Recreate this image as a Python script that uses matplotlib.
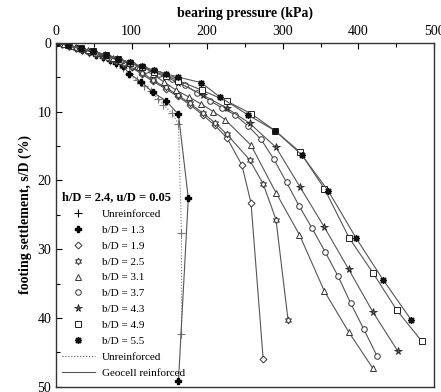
import matplotlib
matplotlib.use("Agg")
import matplotlib.pyplot as plt
import matplotlib.ticker as tck
from matplotlib.lines import Line2D

# bearing pressure (kPa) / settlement s/D (%)
unr_x = [0, 8, 17, 26, 35, 44, 53, 62, 71, 80, 88, 96, 107, 117, 126, 135, 142, 153, 162, 166, 166]
unr_y = [0, 0.25, 0.5, 0.8, 1.1, 1.45, 1.8, 2.2, 2.65, 3.15, 3.7, 4.6, 5.4, 6.3, 7.0, 8.2, 9.0, 10.2, 11.8, 27.6, 42.4]

b13_x = [0, 8, 17, 26, 35, 44, 53, 62, 71, 80, 89, 97, 113, 128, 145, 162, 175, 162]
b13_y = [0, 0.22, 0.48, 0.78, 1.08, 1.4, 1.75, 2.1, 2.5, 2.95, 3.45, 4.5, 5.7, 7.2, 8.4, 10.4, 22.6, 49.2]

b19_x = [0, 8, 17, 26, 35, 44, 53, 62, 71, 80, 90, 100, 114, 128, 145, 161, 177, 194, 210, 226, 246, 258, 274]
b19_y = [0, 0.2, 0.45, 0.72, 1.0, 1.3, 1.6, 1.95, 2.3, 2.7, 3.1, 3.6, 4.6, 5.6, 6.7, 7.8, 9.0, 10.5, 12.0, 13.8, 17.8, 23.3, 45.9]

b25_x = [0, 8, 17, 26, 35, 44, 53, 62, 71, 80, 90, 100, 114, 128, 145, 161, 177, 194, 210, 226, 256, 274, 291, 307]
b25_y = [0, 0.2, 0.45, 0.72, 1.0, 1.28, 1.58, 1.9, 2.25, 2.6, 3.0, 3.5, 4.4, 5.4, 6.5, 7.6, 8.8, 10.2, 11.6, 13.3, 17.0, 20.5, 25.7, 40.3]

b31_x = [0, 10, 20, 31, 42, 53, 64, 75, 86, 97, 110, 128, 143, 159, 176, 192, 208, 224, 258, 291, 322, 355, 387, 419]
b31_y = [0, 0.25, 0.5, 0.8, 1.1, 1.45, 1.8, 2.15, 2.55, 3.0, 3.6, 4.6, 5.7, 6.9, 7.9, 8.9, 10.0, 11.2, 14.9, 21.8, 27.9, 36.1, 42.0, 47.3]

b37_x = [0, 17, 34, 51, 68, 85, 102, 119, 136, 153, 170, 187, 204, 220, 237, 254, 271, 288, 305, 322, 339, 356, 373, 390, 407, 425]
b37_y = [0, 0.45, 0.95, 1.5, 2.05, 2.6, 3.2, 3.9, 4.6, 5.3, 6.1, 7.3, 8.45, 9.5, 10.5, 12.1, 14.0, 16.9, 20.3, 23.8, 27.0, 30.4, 33.9, 37.9, 41.6, 45.6]

b43_x = [0, 16, 33, 49, 65, 81, 98, 114, 130, 146, 162, 194, 226, 256, 291, 323, 355, 387, 419, 452]
b43_y = [0, 0.4, 0.85, 1.3, 1.8, 2.35, 2.95, 3.6, 4.3, 5.0, 5.8, 7.6, 9.5, 11.7, 15.2, 21.0, 26.8, 32.9, 39.1, 44.8]

b49_x = [0, 16, 33, 49, 66, 82, 98, 114, 130, 146, 162, 193, 226, 258, 290, 323, 355, 388, 419, 451, 484]
b49_y = [0, 0.35, 0.8, 1.25, 1.75, 2.3, 2.9, 3.55, 4.2, 4.85, 5.5, 6.9, 8.5, 10.3, 12.8, 15.9, 21.2, 28.4, 33.4, 38.9, 43.4]

b55_x = [0, 16, 33, 49, 66, 82, 98, 114, 130, 145, 162, 192, 217, 254, 290, 325, 360, 397, 433, 470]
b55_y = [0, 0.35, 0.8, 1.25, 1.75, 2.3, 2.85, 3.45, 4.0, 4.5, 5.0, 5.8, 7.9, 10.5, 12.8, 16.3, 21.5, 28.4, 34.5, 40.3]

labels = ["Unreinforced", "b/D = 1.3", "b/D = 1.9", "b/D = 2.5", "b/D = 3.1",
          "b/D = 3.7", "b/D = 4.3", "b/D = 4.9", "b/D = 5.5"]

plt.rcParams['font.family'] = ['Liberation Serif', 'DejaVu Serif']

fig = plt.figure(figsize=(4.41, 3.92), dpi=100)
ax = fig.add_axes([0.127, 0.0135, 0.857, 0.8775])

lc = '#555555'
series = [
    (unr_x, unr_y, dict(marker='+', ms=6, mew=0.8, ls=':', color='#777777')),
    (b13_x, b13_y, dict(marker='P', ms=5, mfc='black', mec='black', ls='-', color=lc)),
    (b19_x, b19_y, dict(marker='D', ms=3.5, mfc='white', mec='#333333', mew=0.7, ls='-', color=lc)),
    (b25_x, b25_y, dict(marker=(6, 1, 0), ms=5, mfc='white', mec='#333333', mew=0.7, ls='-', color=lc)),
    (b31_x, b31_y, dict(marker='^', ms=4, mfc='white', mec='#333333', mew=0.7, ls='-', color=lc)),
    (b37_x, b37_y, dict(marker='o', ms=4, mfc='white', mec='#333333', mew=0.7, ls='-', color=lc)),
    (b43_x, b43_y, dict(marker='*', ms=5.5, mfc='#666666', mec='#222222', mew=0.6, ls='-', color=lc)),
    (b49_x, b49_y, dict(marker='s', ms=4, mfc='white', mec='#222222', mew=0.7, ls='-', color=lc)),
    (b55_x, b55_y, dict(marker=(8, 2, 0), ms=5, mec='#111111', mew=1.0, ls='-', color=lc)),
]
for x, y, kw in series:
    ax.plot(x, y, lw=0.8, **kw)

ax.set_xlim(0, 500)
ax.set_ylim(50, 0)
ax.xaxis.tick_top()
ax.xaxis.set_label_position('top')
ax.set_xticks([0, 100, 200, 300, 400, 500])
ax.set_yticks([0, 10, 20, 30, 40, 50])
ax.xaxis.set_minor_locator(tck.MultipleLocator(50))
ax.yaxis.set_minor_locator(tck.MultipleLocator(5))
ax.tick_params(which='both', direction='in', top=True, bottom=False, left=True, right=False,
               labelsize=10, width=0.8)
ax.tick_params(which='major', length=4)
ax.tick_params(which='minor', length=3)
ax.set_xlabel('bearing pressure (kPa)', fontweight='bold', fontsize=10, labelpad=6)
ax.set_ylabel('footing settlement, s/D (%)', fontweight='bold', fontsize=10, labelpad=4)
for s in ax.spines.values():
    s.set_linewidth(1.0)
    s.set_color('#333333')

# legend
handles = []
for x, y, kw in series:
    hk = {k: v for k, v in kw.items() if k not in ('ls', 'color')}
    handles.append(Line2D([], [], ls='none', color='black', **hk))
handles.append(Line2D([], [], ls=':', color='#555555', lw=0.8))
handles.append(Line2D([], [], ls='-', color='#555555', lw=0.8))
leg_labels = labels + ["Unreinforced", "Geocell reinforced"]
leg = ax.legend(handles, leg_labels, loc='upper left', bbox_to_anchor=(0.0, 0.585),
                frameon=False, fontsize=8, title='h/D = 2.4, u/D = 0.05',
                title_fontproperties={'weight': 'bold', 'size': 9},
                alignment='left', handlelength=3.0, handletextpad=0.6,
                labelspacing=0.55, borderaxespad=0.3, borderpad=0.2)

fig.savefig('out.png', dpi=100)
